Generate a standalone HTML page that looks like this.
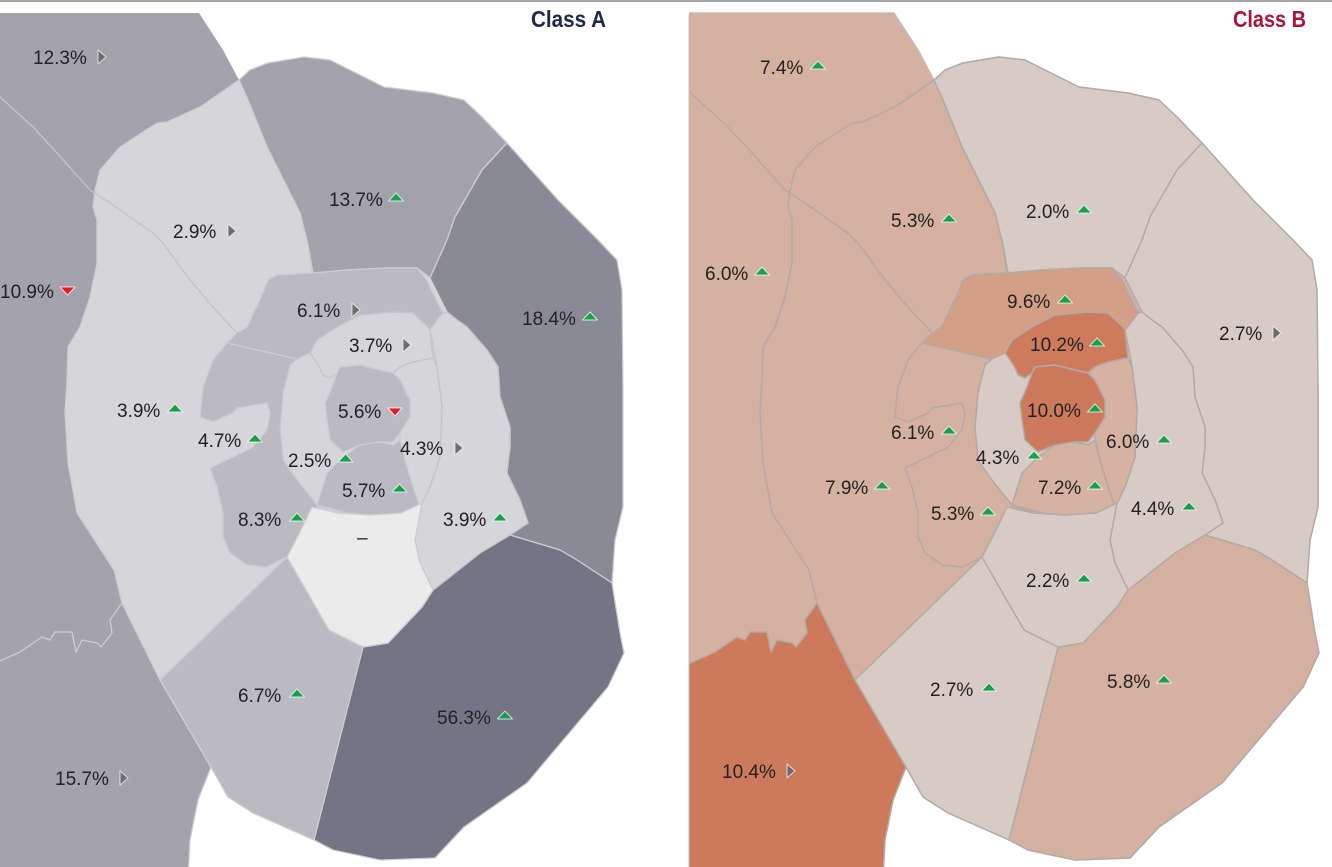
<!DOCTYPE html>
<html>
<head>
<meta charset="utf-8">
<style>
  html,body{margin:0;padding:0;background:#fff;}
  svg{display:block;}
  .lbl{font-family:"Liberation Sans",sans-serif;font-size:19px;fill:#222;}
  .ttl{font-family:"Liberation Sans",sans-serif;font-size:23px;font-weight:bold;}
</style>
</head>
<body>
<svg width="1332" height="867" viewBox="0 0 1332 867" xmlns="http://www.w3.org/2000/svg">
<defs>
  <path id="env" d="M -10,13 L 199,13 L 223,50 L 239,80 L 250,70 L 268,63 L 304,57 L 330,60 L 384,87 L 433,93 L 464,100 L 482,117 L 507,143 L 558,200 L 598,240 L 617,260 L 622,290 L 623,390 L 623,507 L 615,540 L 612,583 L 620,633 L 624,653 L 608,687 L 527,783 L 464,827 L 435,858 L 380,860 L 333,850 L 314,840 L 253,813 L 228,797 L 211,767 L 198,800 L 190,840 L 188,877 L -10,877 Z"/>
  <path id="sw" d="M -10,665 L 0,661 L 20,652 L 42,637 L 50,640 L 55,632 L 72,632 L 76,652 L 82,640 L 97,643 L 101,647 L 112,633 L 110,620 L 122,603 L 160,680 L 211,767 L 198,800 L 190,840 L 188,877 L -10,877 Z"/>
  <path id="n" d="M 239,80 L 250,70 L 268,63 L 304,57 L 330,60 L 384,87 L 433,93 L 464,100 L 482,117 L 507,143 L 482,170 L 455,217 L 447,240 L 430,278 L 417,268 L 387,268 L 347,270 L 313,273 L 308,245 L 300,213 L 287,187 L 267,147 L 248,100 Z"/>
  <path id="e" d="M 507,143 L 558,200 L 598,240 L 617,260 L 622,290 L 623,390 L 623,507 L 615,540 L 612,583 L 577,560 L 560,550 L 510,535 L 528,523 L 520,500 L 507,473 L 510,447 L 510,427 L 500,397 L 498,367 L 487,350 L 467,327 L 457,320 L 447,312 L 443,313 L 433,293 L 427,280 L 430,278 L 447,240 L 455,217 L 482,170 Z"/>
  <path id="se" d="M 363,647 L 388,643 L 422,607 L 433,590 L 437,587 L 480,553 L 510,535 L 560,550 L 577,560 L 612,583 L 620,633 L 624,653 L 608,687 L 527,783 L 464,827 L 435,858 L 380,860 L 333,850 L 314,840 Z"/>
  <path id="light" d="M 239,80 L 248,100 L 267,147 L 287,187 L 300,213 L 308,245 L 312,273 L 417,268 L 430,278 L 447,312 L 457,320 L 467,327 L 487,350 L 498,367 L 500,397 L 510,427 L 510,447 L 507,473 L 520,500 L 528,523 L 510,535 L 480,553 L 437,587 L 433,590 L 422,607 L 388,643 L 363,647 L 329,630 L 287,557 L 160,680 L 122,603 L 114,570 L 77,513 L 68,463 L 65,413 L 67,380 L 68,347 L 80,327 L 90,297 L 97,263 L 97,220 L 93,207 L 95,190 L 100,170 L 120,147 L 157,123 L 167,122 L 200,107 Z"/>
  <path id="rl" d="M 430,330 L 443,313 L 447,312 L 457,320 L 467,327 L 487,350 L 498,367 L 500,397 L 510,427 L 510,447 L 507,473 L 520,500 L 528,523 L 510,535 L 480,553 L 437,587 L 433,590 L 420,563 L 415,540 L 422,503 L 430,487 L 440,457 L 442,407 L 437,367 Z"/>
  <path id="s" d="M 160,680 L 287,557 L 329,630 L 363,647 L 314,840 L 253,813 L 228,797 L 211,767 Z"/>
  <path id="r2" d="M 263,293 L 268,280 L 277,275 L 313,273 L 347,270 L 387,268 L 417,268 L 427,280 L 433,293 L 443,313 L 430,330 L 437,367 L 442,407 L 440,457 L 430,487 L 422,503 L 413,513 L 380,517 L 347,513 L 317,507 L 307,527 L 287,557 L 267,567 L 247,565 L 230,553 L 223,537 L 223,513 L 217,487 L 210,468 L 233,457 L 253,447 L 267,430 L 270,413 L 267,403 L 237,408 L 233,413 L 213,422 L 200,417 L 203,387 L 213,360 L 227,343 L 237,333 L 247,327 Z"/>
  <path id="r2n" d="M 263,293 L 268,280 L 277,275 L 313,273 L 347,270 L 387,268 L 417,268 L 427,280 L 433,293 L 443,313 L 430,330 L 428,327 L 413,313 L 393,312 L 360,315 L 337,327 L 317,340 L 310,353 L 297,359 L 227,343 L 237,333 L 247,327 Z"/>
  <path id="il" d="M 310,353 L 317,340 L 337,327 L 360,315 L 393,312 L 413,313 L 428,327 L 430,330 L 437,367 L 442,407 L 440,457 L 430,487 L 422,503 L 413,513 L 380,517 L 347,513 L 317,505 L 297,480 L 283,460 L 280,427 L 283,393 L 290,365 L 297,359 Z"/>
  <path id="i37" d="M 310,353 L 317,340 L 337,327 L 360,315 L 393,312 L 413,313 L 428,327 L 430,330 L 433,358 L 413,362 L 400,367 L 393,373 L 380,370 L 360,365 L 340,367 L 337,373 L 330,378 L 323,375 L 320,368 L 315,360 Z"/>
  <path id="ie" d="M 393,373 L 400,367 L 413,362 L 433,358 L 437,367 L 442,407 L 440,457 L 430,487 L 422,503 L 420,507 L 413,487 L 407,467 L 400,440 L 400,433 L 410,417 L 410,400 L 400,380 Z"/>
  <path id="c56" d="M 337,373 L 340,367 L 360,365 L 380,370 L 393,373 L 400,380 L 410,400 L 410,417 L 400,433 L 393,442 L 380,442 L 360,445 L 343,452 L 330,440 L 327,420 L 325,403 L 332,387 Z"/>
  <path id="i57" d="M 317,505 L 327,473 L 343,457 L 360,445 L 380,442 L 393,445 L 400,440 L 407,467 L 413,487 L 420,507 L 413,513 L 380,517 L 347,513 Z"/>
  <path id="wh" d="M 287,557 L 300,532 L 312,507 L 338,513 L 370,515 L 401,513 L 422,503 L 415,540 L 420,563 L 433,590 L 422,607 L 388,643 L 363,647 L 329,630 Z"/>
  <path id="diag" fill="none" d="M -10,88 L 0,97 L 33,127 L 57,153 L 90,190 L 110,203 L 153,233 L 163,243 L 190,280 L 213,307 L 237,333"/>
  <clipPath id="clipA"><rect x="0" y="2" width="660" height="865"/></clipPath>
  <clipPath id="clipB"><rect x="-6" y="2" width="660" height="865"/></clipPath>
</defs>

<rect x="0" y="0" width="1332" height="867" fill="#fff"/>
<rect x="0" y="0" width="1332" height="2" fill="#a6a6a6"/>

<!-- Class A map -->
<g clip-path="url(#clipA)" stroke="#cdcdd1" stroke-width="1.3" stroke-linejoin="round">
  <use href="#env" fill="#a3a2ad" stroke="none"/>
  <use href="#sw" fill="#a3a2ad"/>
  <use href="#n" fill="#a3a2ad"/>
  <use href="#e" fill="#8a8a97"/>
  <use href="#se" fill="#737484"/>
  <use href="#light" fill="#d5d5da"/>
  <use href="#rl" fill="#d5d5da" stroke="#c6c6ca"/>
  <use href="#s" fill="#bbbac2"/>
  <use href="#r2" fill="#bbbac2"/>
  <use href="#r2n" fill="#bbbac2"/>
  <use href="#il" fill="#d5d5da" stroke="#c6c6ca"/>
  <use href="#i37" fill="#d5d5da" stroke="#c6c6ca"/>
  <use href="#ie" fill="#d5d5da" stroke="#c6c6ca"/>
  <use href="#c56" fill="#bbbac2"/>
  <use href="#i57" fill="#bbbac2"/>
  <use href="#wh" fill="#ebebeb"/>
  <use href="#diag" fill="none" stroke="#c4c4c8"/>
</g>

<!-- Class B map -->
<g transform="translate(695,0)">
<g clip-path="url(#clipB)" stroke="#b3aaa6" stroke-width="1.5" stroke-linejoin="round">
  <use href="#env" fill="#d4b1a1" stroke="#c9bcb6"/>
  <use href="#sw" fill="#cc7a5b"/>
  <use href="#n" fill="#d8cbc5"/>
  <use href="#e" fill="#d8cbc5"/>
  <use href="#se" fill="#d4b1a1"/>
  <use href="#light" fill="#d4b1a1"/>
  <use href="#rl" fill="#d8cbc5"/>
  <use href="#s" fill="#d8cbc5"/>
  <use href="#r2" fill="#d4b1a1"/>
  <use href="#r2n" fill="#d49f87"/>
  <use href="#il" fill="#d8cbc5"/>
  <use href="#i37" fill="#cd7b5c"/>
  <use href="#ie" fill="#d5b2a2"/>
  <use href="#c56" fill="#cc7a5b"/>
  <use href="#i57" fill="#d5b2a2"/>
  <use href="#wh" fill="#d8cbc5"/>
  <use href="#diag" fill="none"/>
</g>
</g>
<rect x="688.5" y="15" width="1" height="852" fill="#c9bcb6"/>

<!-- Titles -->
<text class="ttl" x="531" y="27" fill="#1c2a48" textLength="75" lengthAdjust="spacingAndGlyphs">Class A</text>
<text class="ttl" x="1233" y="27" fill="#a8173a" textLength="73" lengthAdjust="spacingAndGlyphs">Class B</text>

<!-- Class A labels -->
<g class="lbl">
  <text x="33" y="64">12.3%</text>
  <text x="173" y="238">2.9%</text>
  <text x="329" y="206">13.7%</text>
  <text x="0" y="298">10.9%</text>
  <text x="522" y="325">18.4%</text>
  <text x="297" y="317">6.1%</text>
  <text x="349" y="352">3.7%</text>
  <text x="117" y="417">3.9%</text>
  <text x="338" y="418">5.6%</text>
  <text x="198" y="447">4.7%</text>
  <text x="400" y="455">4.3%</text>
  <text x="288" y="467">2.5%</text>
  <text x="342" y="497">5.7%</text>
  <text x="238" y="526">8.3%</text>
  <text x="443" y="526">3.9%</text>
  <text x="357" y="544">–</text>
  <text x="238" y="702">6.7%</text>
  <text x="437" y="724">56.3%</text>
  <text x="55" y="785">15.7%</text>
</g>

<!-- Class B labels -->
<g class="lbl">
  <text x="760" y="74">7.4%</text>
  <text x="891" y="227">5.3%</text>
  <text x="1026" y="218">2.0%</text>
  <text x="705" y="280">6.0%</text>
  <text x="1007" y="308">9.6%</text>
  <text x="1219" y="340">2.7%</text>
  <text x="1030" y="351">10.2%</text>
  <text x="1027" y="417">10.0%</text>
  <text x="891" y="439">6.1%</text>
  <text x="1106" y="448">6.0%</text>
  <text x="976" y="464">4.3%</text>
  <text x="825" y="494">7.9%</text>
  <text x="1038" y="494">7.2%</text>
  <text x="931" y="520">5.3%</text>
  <text x="1131" y="515">4.4%</text>
  <text x="1026" y="587">2.2%</text>
  <text x="930" y="696">2.7%</text>
  <text x="1107" y="688">5.8%</text>
  <text x="722" y="778">10.4%</text>
</g>

<!-- Icons: green up -->
<g fill="#16a04a" stroke="#ffffff" stroke-width="1" stroke-opacity="0.75" stroke-linejoin="round">
  <!-- A -->
  <polygon points="388.5,201 403.5,201 396,193"/>
  <polygon points="582.5,320 597.5,320 590,312"/>
  <polygon points="167.5,412 182.5,412 175,404"/>
  <polygon points="247.5,442 262.5,442 255,434"/>
  <polygon points="338,462 353,462 345.5,454"/>
  <polygon points="392,492 407,492 399.5,484"/>
  <polygon points="289.5,521 304.5,521 297,513"/>
  <polygon points="492.5,521 507.5,521 500,513"/>
  <polygon points="289.5,697 304.5,697 297,689"/>
  <polygon points="497.5,719 512.5,719 505,711"/>
  <!-- B -->
  <polygon points="810.5,69 825.5,69 818,61"/>
  <polygon points="941.5,222 956.5,222 949,214"/>
  <polygon points="1076.5,213 1091.5,213 1084,205"/>
  <polygon points="754.5,275 769.5,275 762,267"/>
  <polygon points="1057.5,303 1072.5,303 1065,295"/>
  <polygon points="1089.5,346 1104.5,346 1097,338"/>
  <polygon points="1087.5,412 1102.5,412 1095,404"/>
  <polygon points="941.5,434 956.5,434 949,426"/>
  <polygon points="1156.5,443 1171.5,443 1164,435"/>
  <polygon points="1026.5,459 1041.5,459 1034,451"/>
  <polygon points="874.5,489 889.5,489 882,481"/>
  <polygon points="1087.5,489 1102.5,489 1095,481"/>
  <polygon points="980.5,515 995.5,515 988,507"/>
  <polygon points="1181.5,510 1196.5,510 1189,502"/>
  <polygon points="1076.5,582 1091.5,582 1084,574"/>
  <polygon points="981.5,691 996.5,691 989,683"/>
  <polygon points="1156.5,683 1171.5,683 1164,675"/>
</g>

<!-- Icons: red down -->
<g fill="#e8191f" stroke="#ffffff" stroke-width="1" stroke-opacity="0.75" stroke-linejoin="round">
  <polygon points="60,287 75,287 67.5,295"/>
  <polygon points="388,408 402,408 395,416"/>
</g>

<!-- Icons: gray right -->
<g fill="#6e6e6e" stroke="#ffffff" stroke-width="1" stroke-opacity="0.7" stroke-linejoin="round">
  <polygon points="98,50 98,64 106,57"/>
  <polygon points="228,224 228,238 236,231"/>
  <polygon points="352,303 352,317 360,310"/>
  <polygon points="403,338 403,352 411,345"/>
  <polygon points="455,441 455,455 463,448"/>
  <polygon points="120,771 120,785 128,778"/>
  <polygon points="1273,326 1273,340 1281,333"/>
  <polygon points="787,764 787,778 795,771"/>
</g>
</svg>
</body>
</html>
